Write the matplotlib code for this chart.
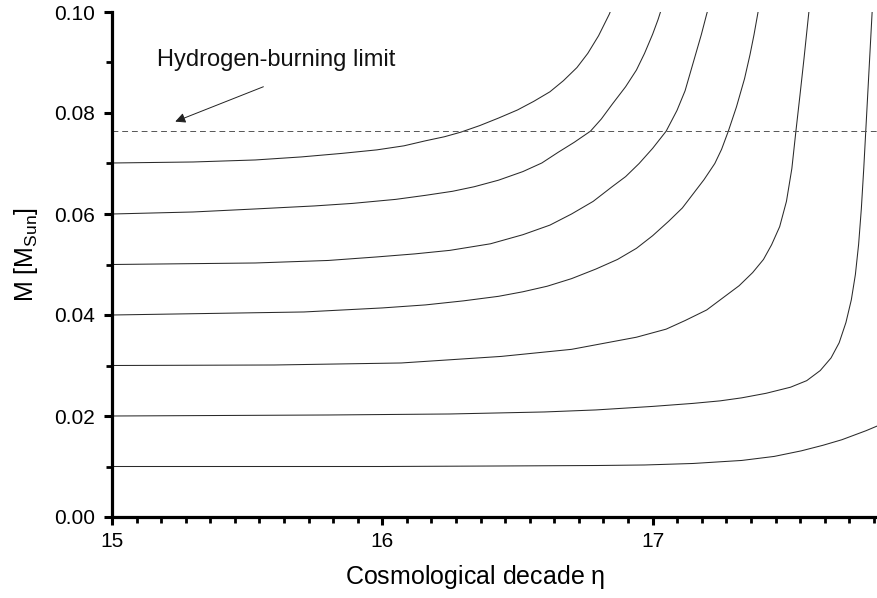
import matplotlib
matplotlib.use("Agg")
import matplotlib.pyplot as plt
from matplotlib.ticker import MultipleLocator, AutoMinorLocator, FormatStrFormatter

plt.rcParams['font.family'] = ['Liberation Sans', 'DejaVu Sans']
plt.rcParams['mathtext.default'] = 'regular'

# ---- data (eta, M) ----
eta_07 = [15.00, 15.30, 15.53, 15.70, 15.85, 15.98, 16.08, 16.16, 16.23, 16.29, 16.36,
          16.43, 16.50, 16.56, 16.62, 16.67, 16.72, 16.76, 16.80, 16.84, 16.85]
m_07 = [0.0701, 0.0703, 0.0707, 0.0713, 0.0720, 0.0727, 0.0735, 0.0745, 0.0753, 0.0762, 0.0775,
        0.0790, 0.0806, 0.0823, 0.0842, 0.0864, 0.0890, 0.0918, 0.0953, 0.0996, 0.1010]

eta_06 = [15.00, 15.30, 15.53, 15.75, 15.89, 16.05, 16.16, 16.26, 16.34, 16.43, 16.52, 16.59,
          16.65, 16.71, 16.77, 16.81, 16.85, 16.90, 16.94, 16.97, 17.00, 17.02, 17.035]
m_06 = [0.0600, 0.0604, 0.0610, 0.0616, 0.0621, 0.0629, 0.0637, 0.0645, 0.0654, 0.0667, 0.0684, 0.0701,
        0.0722, 0.0742, 0.0764, 0.0788, 0.0817, 0.0852, 0.0885, 0.0918, 0.0956, 0.0985, 0.1010]

eta_05 = [15.00, 15.53, 15.80, 15.98, 16.12, 16.25, 16.40, 16.52, 16.62, 16.70, 16.78, 16.85,
          16.90, 16.95, 17.00, 17.05, 17.09, 17.12, 17.16, 17.18, 17.20, 17.21]
m_05 = [0.0500, 0.0503, 0.0508, 0.0515, 0.0521, 0.0528, 0.0541, 0.0559, 0.0578, 0.0600, 0.0625, 0.0654,
        0.0674, 0.0700, 0.0730, 0.0764, 0.0805, 0.0844, 0.0918, 0.0955, 0.0996, 0.1015]

eta_04 = [15.00, 15.71, 16.00, 16.16, 16.30, 16.43, 16.52, 16.61, 16.70, 16.79, 16.87, 16.94,
          17.00, 17.06, 17.11, 17.15, 17.19, 17.23, 17.255, 17.28, 17.31, 17.34, 17.36, 17.375, 17.39]
m_04 = [0.0400, 0.0406, 0.0414, 0.0420, 0.0428, 0.0437, 0.0446, 0.0457, 0.0472, 0.0491, 0.0510, 0.0532,
        0.0557, 0.0586, 0.0612, 0.0640, 0.0668, 0.0700, 0.0728, 0.0764, 0.0812, 0.0868, 0.0915, 0.0955, 0.1000]

eta_03 = [15.00, 15.60, 16.07, 16.44, 16.70, 16.94, 17.05, 17.12, 17.20, 17.26, 17.32, 17.37, 17.41,
          17.44, 17.47, 17.495, 17.515, 17.53, 17.545, 17.56, 17.575, 17.58]
m_03 = [0.0300, 0.0301, 0.0305, 0.0318, 0.0332, 0.0356, 0.0372, 0.0389, 0.0410, 0.0434, 0.0458, 0.0484, 0.0510,
        0.0539, 0.0575, 0.0625, 0.0690, 0.0764, 0.0835, 0.0908, 0.0985, 0.1010]

eta_02 = [15.00, 15.80, 16.25, 16.60, 16.79, 17.00, 17.15, 17.25, 17.33, 17.42, 17.51, 17.57, 17.62,
          17.66, 17.69, 17.715, 17.735, 17.75, 17.762, 17.772, 17.781, 17.789, 17.797, 17.805, 17.813]
m_02 = [0.0200, 0.0202, 0.0204, 0.0208, 0.0212, 0.0219, 0.0225, 0.0230, 0.0236, 0.0245, 0.0257, 0.0270, 0.0290,
        0.0315, 0.0345, 0.0385, 0.0430, 0.0480, 0.0540, 0.0610, 0.0690, 0.0770, 0.0850, 0.0930, 0.1010]

eta_01 = [15.00, 16.00, 16.43, 16.80, 16.97, 17.15, 17.33, 17.45, 17.55, 17.63, 17.70, 17.75, 17.79, 17.83]
m_01 = [0.0100, 0.0100, 0.0101, 0.0102, 0.0103, 0.0106, 0.0112, 0.0120, 0.0131, 0.0142, 0.0153, 0.0163, 0.0171, 0.0180]

curves = [(eta_07, m_07), (eta_06, m_06), (eta_05, m_05), (eta_04, m_04),
          (eta_03, m_03), (eta_02, m_02), (eta_01, m_01)]

h_limit = 0.0765
annot_text = "Hydrogen-burning limit"
annot_tail = (15.56, 0.0852)
annot_head = (15.234, 0.0783)
text_pos = (15.166, 0.0905)

x_ticks = [15, 16, 17]
y_ticks = [0.00, 0.02, 0.04, 0.06, 0.08, 0.10]

# ---- figure ----
fig = plt.figure(figsize=(8.77, 5.98), dpi=100)
ax = fig.add_axes([112/877, (598-517)/598, 765/877, 505/598])

for ex, my in curves:
    ax.plot(ex, my, color='#2a2a2a', lw=0.75, solid_joinstyle='round')

ax.axhline(h_limit, color='#555555', lw=0.7, linestyle=(0, (6, 4)))

ax.annotate("", xy=annot_head, xytext=annot_tail,
            arrowprops=dict(arrowstyle='-|>', color='#222222', lw=0.7,
                            mutation_scale=15, shrinkA=0, shrinkB=0))
ax.text(text_pos[0], text_pos[1], annot_text, fontsize=17, va='center', ha='left',
        color='#111111')

ax.set_xlim(15, 17.83)
ax.set_ylim(0, 0.10)
ax.set_xticks(x_ticks)
ax.set_yticks(y_ticks)
ax.yaxis.set_major_formatter(FormatStrFormatter('%.2f'))
ax.xaxis.set_minor_locator(AutoMinorLocator(11))
ax.yaxis.set_minor_locator(MultipleLocator(0.01))

for s in ['top', 'right']:
    ax.spines[s].set_visible(False)
for s in ['left', 'bottom']:
    ax.spines[s].set_linewidth(2.3)

ax.tick_params(which='major', direction='out', length=6, width=2.2, labelsize=15)
ax.tick_params(which='minor', direction='out', length=4, width=2.0)
ax.tick_params(axis='y', which='major', pad=6)
ax.tick_params(axis='x', which='major', pad=4.5)

ax.set_xlabel(r"Cosmological decade $\eta$", fontsize=18)
ax.xaxis.set_label_coords((475-112)/765, (517-577)/505)
ax.xaxis.label.set_va('center')
ax.set_ylabel(r"M [M$_{Sun}$]", fontsize=18)
ax.yaxis.set_label_coords((26-112)/765, (517-255)/505)
ax.yaxis.label.set_va('center')

fig.savefig("out.png", dpi=100)
